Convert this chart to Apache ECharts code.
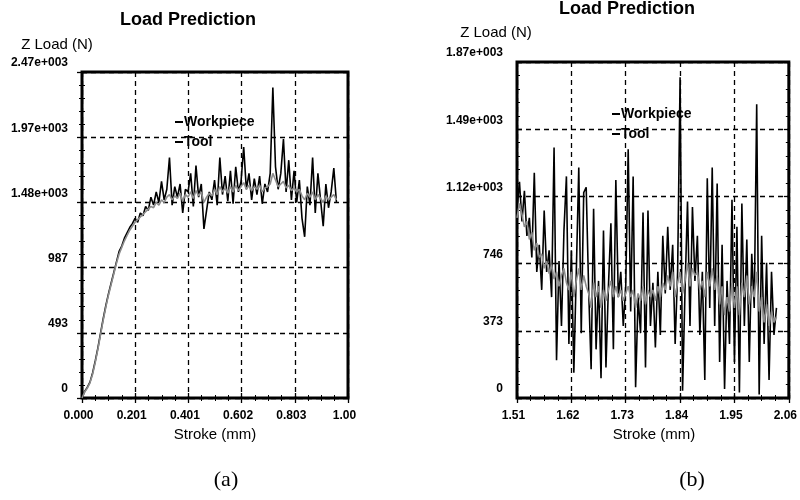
<!DOCTYPE html>
<html>
<head>
<meta charset="utf-8">
<script src="https://cdn.jsdelivr.net/npm/echarts@6/dist/echarts.min.js"></script>
<style>
  html, body { margin: 0; padding: 0; background: #fff; }
  #main { width: 800px; height: 500px; }
</style>
</head>
<body>
<div id="main"></div>
<script>
// panel (a): stroke 0.000 .. 0.96 mm, one sample every 0.01 mm
var strokeStartA = 0, strokeStepA = 0.01;
var workA = [0, 50, 80, 120, 190, 280, 380, 490, 600, 700,
  790, 870, 950, 1030, 1110, 1150, 1210, 1250, 1290, 1320,
  1360, 1330, 1400, 1380, 1450, 1420, 1520, 1460, 1560, 1480,
  1640, 1500, 1580, 1820, 1460, 1600, 1520, 1620, 1400, 1580,
  1560, 1700, 1450, 1760, 1520, 1620, 1280, 1420, 1560, 1500,
  1650, 1460, 1820, 1540, 1680, 1490, 1720, 1470, 1750, 1560,
  1640, 1900, 1580, 1700, 1500, 1660, 1540, 1680, 1470, 1620,
  1560, 1700, 2350, 1750, 1580, 1700, 1960, 1560, 1800, 1500,
  1720, 1480, 1650, 1360, 1220, 1600, 1460, 1820, 1400, 1700,
  1500, 1300, 1620, 1440, 1560, 1740, 1480];
var toolA = [0, 45, 75, 115, 180, 270, 370, 480, 590, 690,
  780, 860, 940, 1020, 1090, 1140, 1190, 1230, 1270, 1300,
  1330, 1350, 1370, 1390, 1410, 1430, 1450, 1440, 1480, 1460,
  1500, 1480, 1520, 1540, 1500, 1530, 1510, 1550, 1490, 1540,
  1520, 1560, 1510, 1570, 1530, 1560, 1480, 1520, 1550, 1530,
  1580, 1540, 1600, 1560, 1590, 1550, 1600, 1560, 1610, 1570,
  1600, 1630, 1580, 1610, 1570, 1600, 1580, 1610, 1560, 1590,
  1600, 1620, 1700, 1650, 1600, 1620, 1640, 1590, 1610, 1570,
  1590, 1560, 1580, 1530, 1500, 1550, 1520, 1560, 1500, 1540,
  1510, 1480, 1530, 1500, 1520, 1540, 1500];

// panel (b): stroke 1.51 .. 2.035 mm, one sample every 0.005 mm
var strokeStartB = 1.51, strokeStepB = 0.005;
var workB = [1050, 1200, 980, 1150, 900, 1000, 780, 1250, 700, 850,
  600, 1040, 700, 820, 560, 1390, 210, 760, 400, 930,
  1230, 300, 820, 140, 700, 1280, 360, 1140, 1170, 600,
  160, 1050, 270, 650, 110, 930, 170, 620, 970, 270,
  1210, 560, 700, 400, 620, 1380, 480, 1230, 60, 560,
  360, 1030, 170, 1040, 400, 640, 280, 700, 350, 900,
  580, 950, 600, 850, 300, 700, 1780, 40, 600, 1090,
  400, 1060, 650, 900, 350, 700, 100, 1220, 500, 1280,
  400, 1190, 200, 850, 50, 650, 300, 1100, 200, 950,
  30, 1080, 400, 880, 200, 800, 500, 1630, 20, 900,
  300, 750, 100, 700, 350, 500];
var toolB = [1000, 1080, 1020, 950, 980, 880, 920, 820, 860, 780,
  800, 720, 760, 690, 740, 660, 700, 620, 680, 720,
  640, 600, 700, 560, 650, 720, 600, 680, 620, 580,
  500, 640, 560, 620, 500, 600, 540, 600, 650, 560,
  620, 560, 600, 540, 580, 620, 560, 600, 500, 580,
  540, 620, 520, 600, 560, 600, 540, 620, 560, 640,
  600, 680, 620, 700, 560, 640, 700, 580, 650, 750,
  620, 720, 680, 700, 600, 650, 560, 700, 620, 720,
  600, 680, 520, 620, 460, 560, 480, 640, 500, 620,
  460, 640, 560, 680, 520, 620, 560, 700, 480, 560,
  420, 520, 400, 480, 420, 450];

var xLabelsA = ['0.000', '0.201', '0.401', '0.602', '0.803', '1.00'];
var yLabelsA = ['0', '493', '987', '1.48e+003', '1.97e+003', '2.47e+003'];
var xLabelsB = ['1.51', '1.62', '1.73', '1.84', '1.95', '2.06'];
var yLabelsB = ['0', '373', '746', '1.12e+003', '1.49e+003', '1.87e+003'];

function pairs(start, step, values) {
  return values.map(function (v, i) { return [start + i * step, v]; });
}

var labelFont = { color: '#000', fontFamily: 'Liberation Sans', fontWeight: 'bold', fontSize: 12 };
var dash = { show: true, lineStyle: { color: '#000', type: [5, 4], width: 1.3 } };
var tick = { show: true, inside: true, length: 5, lineStyle: { color: '#000', width: 1.3 } };

function xAxisPair(grid, min, max, interval, labels) {
  return [{
    type: 'value', gridIndex: grid, min: min, max: max, interval: interval,
    axisLine: { show: false }, axisTick: tick,
    minorTick: { show: true, splitNumber: 4, length: 3, lineStyle: { color: '#000' } },
    splitLine: dash,
    axisLabel: Object.assign({ margin: 12, padding: [0, 7, 0, 0],
      formatter: function (v, i) { return labels[i]; } }, labelFont)
  }, {
    type: 'value', gridIndex: grid, position: 'top', min: min, max: max, interval: interval,
    axisLine: { show: false }, axisTick: tick,
    minorTick: { show: true, splitNumber: 4, length: 3, lineStyle: { color: '#000' } },
    splitLine: { show: false }, axisLabel: { show: false }
  }];
}
function yAxisPair(grid, max, interval, labels) {
  return [{
    type: 'value', gridIndex: grid, min: 0, max: max, interval: interval,
    axisLine: { show: false }, axisTick: tick,
    minorTick: { show: true, splitNumber: 5, length: 3, lineStyle: { color: '#000' } },
    splitLine: dash,
    axisLabel: Object.assign({ margin: 14, verticalAlign: 'bottom', padding: [0, 0, 3, 0],
      formatter: function (v, i) { return labels[i]; } }, labelFont)
  }, {
    type: 'value', gridIndex: grid, position: 'right', min: 0, max: max, interval: interval,
    axisLine: { show: false }, axisTick: tick,
    minorTick: { show: true, splitNumber: 5, length: 3, lineStyle: { color: '#000' } },
    splitLine: { show: false }, axisLabel: { show: false }
  }];
}

function text(x, y, str, font) {
  return { type: 'text', x: x, y: y, z: 10,
    style: { text: str, font: font, fill: '#000', align: 'center', verticalAlign: 'middle' } };
}

function legend(left, top) {
  return {
    left: left, top: top, orient: 'vertical', itemGap: 6,
    itemWidth: 8, itemHeight: 2, icon: 'rect',
    textStyle: { color: '#000', fontFamily: 'Liberation Sans', fontWeight: 'bold', fontSize: 14, padding: [0, 0, 0, -4] },
    data: [{ name: 'Workpiece', itemStyle: { color: '#000' } },
           { name: 'Tool', itemStyle: { color: '#000' } }]
  };
}

var myChart = echarts.init(document.getElementById('main'));

var option = {
  backgroundColor: '#fff',
  animation: false,
  grid: [
    { left: 82, top: 72, width: 266, height: 326, show: true, borderColor: '#000', borderWidth: 3 },
    { left: 517, top: 62, width: 275, height: 336, show: true, borderColor: '#000', borderWidth: 3 }
  ],
  xAxis: xAxisPair(0, 0, 1.0035, 0.2007, xLabelsA).concat(xAxisPair(1, 1.51, 2.06, 0.11, xLabelsB)),
  yAxis: yAxisPair(0, 2467.5, 493.5, yLabelsA).concat(yAxisPair(1, 1865, 373, yLabelsB)),
  legend: [legend(170, 110), legend(607, 102)],
  series: [
    { name: 'Workpiece', type: 'line', xAxisIndex: 0, yAxisIndex: 0, symbol: 'none',
      data: pairs(strokeStartA, strokeStepA, workA), lineStyle: { color: '#000', width: 1.6 }, itemStyle: { color: '#000' } },
    { name: 'Tool', type: 'line', xAxisIndex: 0, yAxisIndex: 0, symbol: 'none',
      data: pairs(strokeStartA, strokeStepA, toolA), lineStyle: { color: '#8c8c8c', width: 1.6 }, itemStyle: { color: '#8c8c8c' } },
    { name: 'Workpiece', type: 'line', xAxisIndex: 2, yAxisIndex: 2, symbol: 'none',
      data: pairs(strokeStartB, strokeStepB, workB), lineStyle: { color: '#000', width: 1.6 }, itemStyle: { color: '#000' } },
    { name: 'Tool', type: 'line', xAxisIndex: 2, yAxisIndex: 2, symbol: 'none',
      data: pairs(strokeStartB, strokeStepB, toolB), lineStyle: { color: '#8c8c8c', width: 1.6 }, itemStyle: { color: '#8c8c8c' } }
  ],
  graphic: [
    text(188, 20, 'Load Prediction', 'bold 18px "Liberation Sans"'),
    text(627, 9, 'Load Prediction', 'bold 18px "Liberation Sans"'),
    text(57, 45, 'Z Load (N)', '15px "Liberation Sans"'),
    text(496, 33, 'Z Load (N)', '15px "Liberation Sans"'),
    text(215, 435, 'Stroke (mm)', '15px "Liberation Sans"'),
    text(654, 435, 'Stroke (mm)', '15px "Liberation Sans"'),
    text(226, 480, '(a)', '22px "Liberation Serif"'),
    text(692, 480, '(b)', '22px "Liberation Serif"')
  ]
};

myChart.setOption(option);
</script>
</body>
</html>
